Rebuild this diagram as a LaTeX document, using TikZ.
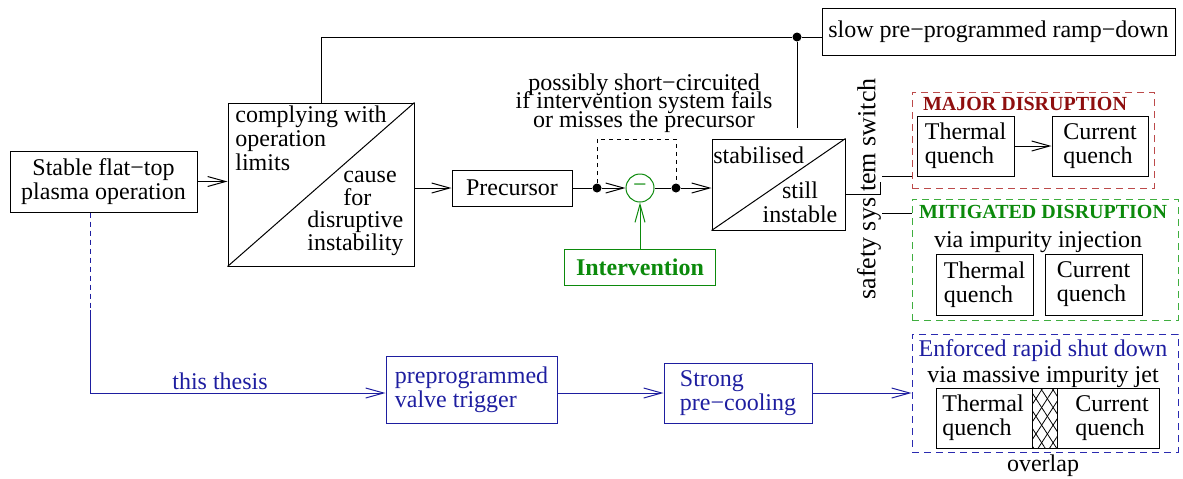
\documentclass[tikz,border=0pt]{standalone}
\usepackage{fontspec}
\setmainfont{Liberation Serif}
\usepackage{xcolor}
\usepackage{tikz}
\usetikzlibrary{positioning,arrows.meta,patterns.meta}
\definecolor{thesisblue}{HTML}{1E1EA0}
\definecolor{mitgreen}{HTML}{0C8A0C}
\definecolor{mitframe}{HTML}{3FAE3F}
\definecolor{majred}{HTML}{8E0E0E}
\definecolor{majframe}{HTML}{BC4A4A}
\definecolor{jetframe}{HTML}{2A2AB0}
\newcommand{\bodyfont}{\fontsize{12}{12}\selectfont}
\newcommand{\tightfont}{\fontsize{12}{9.3}\selectfont\lineskiplimit=-20pt}
\tikzset{
  stage/.style    = {rectangle, draw, line width=0.5pt, inner sep=0pt, align=center, font=\bodyfont},
  flow/.style     = {-{Straight Barb[length=9pt,width=5pt]}, line width=0.5pt},
  wire/.style     = {line width=0.5pt},
  zone/.style     = {rectangle, draw=#1, line width=0.5pt, dash pattern=on 3.5pt off 2.5pt, inner sep=0pt},
  hdr/.style      = {font=\fontsize{10}{10}\selectfont\bfseries, text=#1, inner sep=0pt, anchor=base},
  note/.style     = {font=\bodyfont, inner sep=0pt, align=center},
  junction/.style = {circle, fill, inner sep=0pt, minimum size=4.5pt},
}

\begin{document}
\begin{tikzpicture}[x=0.5pt, y=-0.5pt, node distance=10pt]
  \useasboundingbox (0,0) rectangle (1183,478);
  % main chain
  \node[stage, minimum width=93.5pt, minimum height=30.5pt] (stable) at (103.5,181.5) {Stable flat−top\\plasma operation};
  \node[stage, minimum width=93pt, minimum height=81.5pt] (comply) at (321,184.5) {};
  \draw[wire] (comply.south west) -- (comply.north east);
  \node[note, align=left, anchor=north west] (complytop) at (235,105) {complying with\\operation\\limits};
  \node[note, align=left, anchor=north west, font=\fontsize{12}{11.3}\selectfont] (complybot) at (307,171)
    {\hspace*{18pt}cause\\\hspace*{18pt}for\\disruptive\\instability};
  \node[stage, minimum width=60pt, minimum height=18pt] (prec) at (512,188) {Precursor};
  \node[junction] (jin) at (597,188) {};
  \node[circle, draw=mitgreen, line width=0.5pt, minimum size=14pt, inner sep=0pt, text=mitgreen, font=\bodyfont] (sum) at (640,188) {\raisebox{-0.6pt}{−}};
  \node[junction] (jout) at (676,188) {};
  \node[stage, draw=mitgreen, text=mitgreen, font=\bodyfont\bfseries, minimum width=75.5pt, minimum height=18pt, below=23pt of sum] (interv) {Intervention};
  \node[stage, minimum width=66.5pt, minimum height=45.5pt] (stab) at (778.5,184.5) {};
  \draw[wire] (stab.south west) -- (stab.north east);
  \node[note, anchor=north west] (stabtop) at (713,146) {stabilised};
  \node[note, anchor=north] (stabbot) at (800,181) {still\\instable};
  \node[note, font=\tightfont] (bypassnote) at (644,103) {possibly short−circuited\\if intervention system fails\\or misses the precursor};

  \draw[flow] (stable.east) -- (stable.east -| comply.west);
  \draw[flow] (comply.east |- prec) -- (prec.west);
  \draw[wire] (prec) -- (jin);
  \draw[flow] (jin) -- (sum);
  \draw[wire] (sum) -- (jout);
  \draw[flow] (jout) -- (stab.west |- jout);
  \draw[wire, dash pattern=on 2pt off 2pt] (jin) -- ++(0,-49) -| (jout);
  \draw[flow, mitgreen] (interv.north) -- (sum);

  % ramp-down branch
  \node[stage, minimum width=176.5pt, minimum height=23.5pt] (ramp) at (998.5,31.5) {slow pre−programmed ramp−down};
  \node[junction] (tap) at (797,37) {};
  \coordinate (tapend) at (797,128);
  \draw[wire] (comply.north) |- (tap);
  \draw[wire] (tap) -- (tap -| ramp.west);
  \draw[wire] (tap) -- (tapend);

  % safety system switch
  \coordinate (pivot) at (880,194);
  \coordinate (cmaj) at (882,176);
  \coordinate (cmit) at (882,213);
  \node[note, rotate=90, font=\fontsize{13}{13}\selectfont] (swtxt) at (869,189) {safety sys\kern3pt tem switch};
  \draw[wire] (stab.east |- pivot) -- (pivot) -- ++(0,-12);

  % outcomes
  \node[zone=majframe, minimum width=121pt, minimum height=48pt] (major) at (1033,140) {};
  \node[hdr=majred] (majhdr) at (1025,110) {MAJOR DISRUPTION};
  \node[stage, align=left, minimum width=48.5pt, minimum height=30pt] (majth) at (965.5,146) {Thermal\\quench};
  \node[stage, align=left, minimum width=48pt, minimum height=30pt, right=18.5pt of majth] (majcq) {Current\\quench};
  \draw[flow] (majth) -- (majcq);

  \node[zone=mitframe, minimum width=133pt, minimum height=60.5pt] (mitig) at (1045,259.5) {};
  \node[hdr=mitgreen] (mithdr) at (1043,218) {MITIGATED DISRUPTION};
  \node[note, anchor=base] (mitvia) at (1038,247) {via impurity injection};
  \node[stage, align=left, minimum width=48.5pt, minimum height=30.5pt] (mitth) at (984.5,284.5) {Thermal\\quench};
  \node[stage, align=left, minimum width=48.5pt, minimum height=30.5pt, right=5.5pt of mitth] (mitcq) {Current\\quench};

  \draw[wire] (cmaj) -- (cmaj -| major.west);
  \draw[wire] (cmit) -- (cmit -| mitig.west);

  \node[zone=jetframe, minimum width=133pt, minimum height=59pt] (jet) at (1045,393) {};
  \node[note, anchor=base, text=thesisblue] (jethdr) at (1043,356) {Enforced rapid shut down};
  \node[note, anchor=base] (jetvia) at (1043,382) {via massive impurity jet};
  \node[stage, minimum width=111.5pt, minimum height=30pt] (jetbox) at (1047.5,418) {};
  \fill[pattern={Lines[angle=57,distance=4.8pt,line width=0.4pt]}] (1032,388) rectangle (1057,448);
  \fill[pattern={Lines[angle=-57,distance=4.8pt,line width=0.4pt]}] (1032,388) rectangle (1057,448);
  \draw[wire] (1032,388) -- (1032,448) (1057,388) -- (1057,448);
  \node[note, align=left, anchor=west] (jetth) at (942,418) {Thermal\\quench};
  \node[note, align=left, anchor=west] (jetcq) at (1075,418) {Current\\quench};
  \node[note, anchor=base] (overlap) at (1043,471) {overlap};

  % this thesis
  \node[stage, draw=thesisblue, text=thesisblue, align=left, minimum width=85.5pt, minimum height=33.5pt] (valve) at (471.5,389.5) {preprogrammed\\valve trigger};
  \node[stage, draw=thesisblue, text=thesisblue, align=left, minimum width=74pt, minimum height=30pt] (precool) at (738,393) {Strong\\pre−cooling};
  \coordinate (split) at (90,310);
  \draw[wire, thesisblue, dash pattern=on 2.5pt off 2pt] (stable.south -| split) -- (split);
  \draw[flow, thesisblue] (split) |- (valve.west |- precool)
    node[pos=0.72, above, note, inner sep=1.5pt, text=thesisblue] {this thesis};
  \draw[flow, thesisblue] (valve.east |- precool) -- (precool.west);
  \draw[flow, thesisblue] (precool.east) -- (precool.east -| jet.west);
\end{tikzpicture}
\end{document}
